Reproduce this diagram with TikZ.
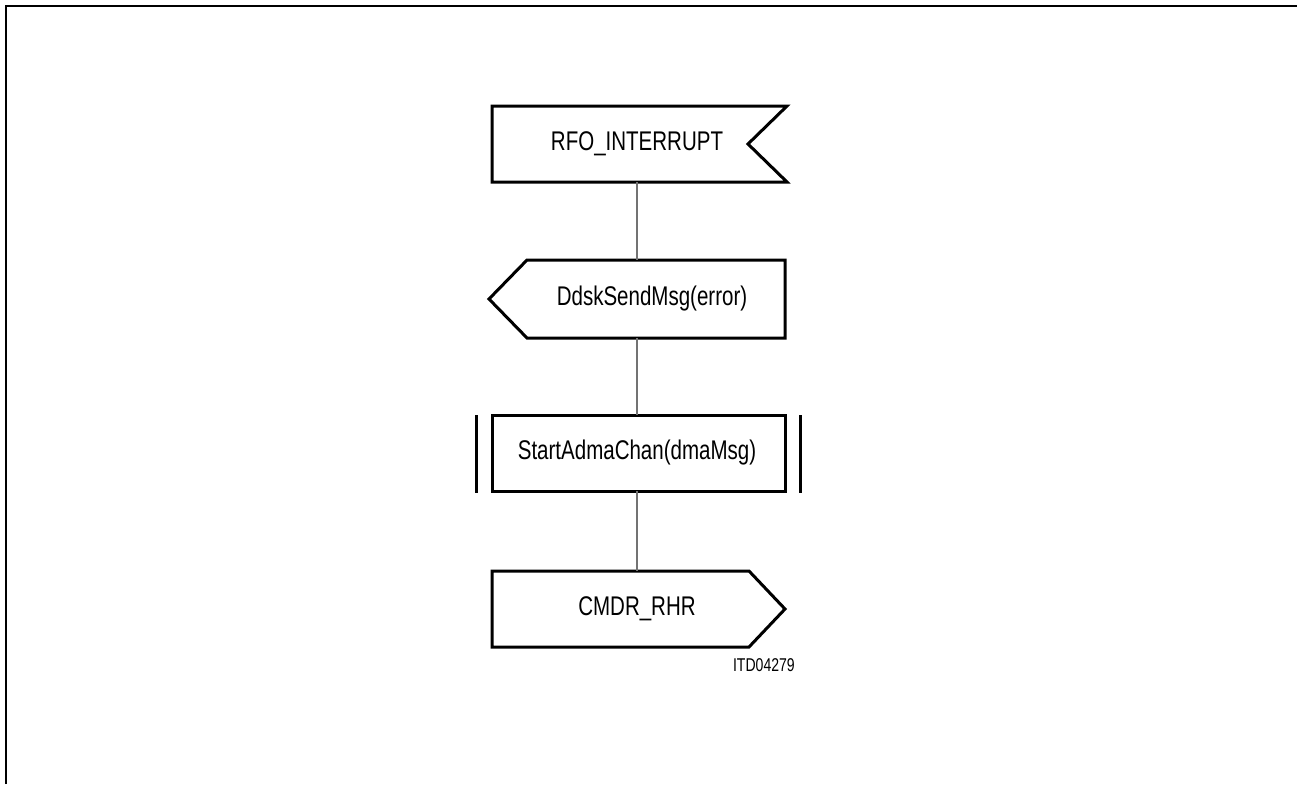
\documentclass[tikz,border=0pt]{standalone}
\usepackage{fontspec}
\newfontfamily\narrowsans{Liberation Sans}[FakeStretch=0.76]
\usetikzlibrary{calc}
\begin{document}
\begin{tikzpicture}[x=1pt,y=-1pt,
  box/.style={draw=none,inner sep=0pt,minimum height=76pt,font=\narrowsans\fontsize{27}{32}\selectfont},
  outline/.style={line width=3pt,line join=miter},
  conn/.style={draw=black!55,line width=1.5pt},
  frame/.style={line width=2pt}]
\useasboundingbox (0,0) rectangle (1297,784);
% frame (top and left edges only)
\draw[frame] (6,784) -- (6,6) -- (1297,6);

% nodes
\node[box] (n1) at (637,144) {RFO\_INTERRUPT};
\node[box,minimum height=78pt] (n2) at (652,299) {DdskSendMsg(error)};
\node[box] (n3) at (637,453) {StartAdmaChan(dmaMsg)};
\node[box] (n4) at (637,609) {CMDR\_RHR};
\node[font=\narrowsans\fontsize{18.5}{22}\selectfont,anchor=east,inner sep=0pt] (lbl) at (795,665) {ITD04279};

% shapes
% input signal (notched right side)
\draw[outline] ($(n1.center)+(-145,-38)$) -- ($(n1.center)+(150,-38)$) -- ($(n1.center)+(111,0)$)
  -- ($(n1.center)+(150,38)$) -- ($(n1.center)+(-145,38)$) -- cycle;
% output to the left (pointed left side)
\draw[outline] ($(n2.center)+(-125,-39)$) -- ($(n2.center)+(133,-39)$) -- ($(n2.center)+(133,39)$)
  -- ($(n2.center)+(-125,39)$) -- ($(n2.center)+(-163,0)$) -- cycle;
% procedure call box with bars
\draw[outline] ($(n3.center)+(-145,-38)$) rectangle ($(n3.center)+(148,38)$);
\draw[outline] ($(n3.center)+(-161,-38)$) -- ($(n3.center)+(-161,40)$);
\draw[outline] ($(n3.center)+(163,-38)$) -- ($(n3.center)+(163,40)$);
% output signal (pointed right side)
\draw[outline] ($(n4.center)+(-145,-38)$) -- ($(n4.center)+(112,-38)$) -- ($(n4.center)+(148,0)$)
  -- ($(n4.center)+(112,38)$) -- ($(n4.center)+(-145,38)$) -- cycle;

% connectors
\draw[conn] (n1.south) -- (n1.south |- n2.north);
\draw[conn] (n3.north |- n2.south) -- (n3.north);
\draw[conn] (n3.south) -- (n4.north);
\end{tikzpicture}
\end{document}
